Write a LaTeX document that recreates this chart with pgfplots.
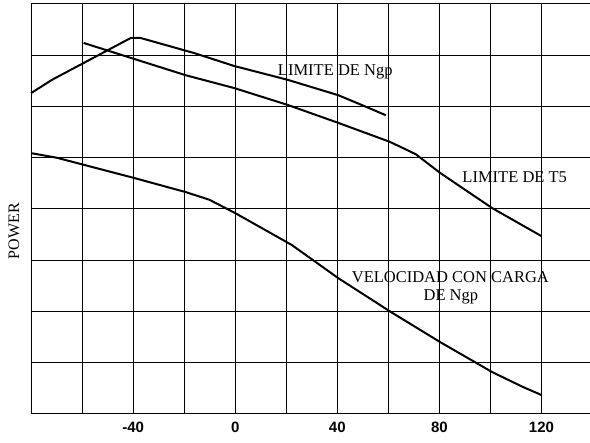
\documentclass[border=0pt]{standalone}
\usepackage{fontspec}
\setmainfont{Liberation Serif}
\newfontfamily\tickfont{Liberation Sans}
\usepackage{pgfplots}
\pgfplotsset{compat=1.18}
\begin{document}
\begin{tikzpicture}
\begin{axis}[
  name=ax,
  scale only axis,
  width=559pt, height=410pt,
  xmin=-80, xmax=139, ymin=0, ymax=8,
  axis x line=box, axis y line*=left,
  axis line style={black, line width=1pt},
  xtick={-80,-60,...,120},
  xticklabels={,,-40,,0,,40,,80,,120},
  ytick={0,1,...,8},
  yticklabels={},
  major tick length=0pt,
  grid=major,
  major grid style={black, line width=1pt},
  ticklabel style={font=\tickfont\bfseries\fontsize{15}{15}\selectfont},
  xticklabel style={yshift=-4pt},
  ylabel={POWER},
  ylabel style={at={(axis description cs:0,0.446)}, anchor=south, yshift=8pt, font=\fontsize{16}{16}\selectfont},
  clip=false,
]
% LIMITE DE Ngp
\addplot[black, line width=2pt] coordinates {
(-80,6.26) (-71.8,6.52) (-40.8,7.34) (-37.3,7.34) (-15.9,7.04) (-0.4,6.79)
(20.6,6.52) (40.4,6.22) (50.5,6.01) (59.0,5.83)};
% LIMITE DE T5
\addplot[black, line width=2pt] coordinates {
(-59.4,7.24) (-19.4,6.61) (-0.4,6.36) (20.6,6.03) (40.4,5.68) (60.6,5.31)
(70.7,5.07) (80.4,4.70) (100.6,4.02) (120.0,3.47)};
% VELOCIDAD CON CARGA DE Ngp
\addplot[black, line width=2pt] coordinates {
(-80,5.09) (-69.9,5.00) (-39.2,4.60) (-19.4,4.33) (-10.1,4.18) (0,3.92)
(22.1,3.30) (40.4,2.65) (61.0,1.99) (80.4,1.40) (100.6,0.82) (112.6,0.53) (120,0.37)};
\node[anchor=base, font=\fontsize{16.5}{16.5}\selectfont] at (axis cs:39.2,6.61) {LIMITE DE Ngp};
\node[anchor=base, font=\fontsize{16.5}{16.5}\selectfont] at (axis cs:109.5,4.51) {LIMITE DE T5};
\node[anchor=base, font=\fontsize{16.5}{16.5}\selectfont] at (axis cs:84.3,2.56) {VELOCIDAD CON CARGA};
\node[anchor=base, font=\fontsize{16.5}{16.5}\selectfont] at (axis cs:84.5,2.22) {DE Ngp};
\end{axis}
\pgfresetboundingbox
\path[use as bounding box] ([xshift=-31pt,yshift=-29pt]ax.south west) rectangle ([yshift=4pt]ax.north east);
\end{tikzpicture}
\end{document}
